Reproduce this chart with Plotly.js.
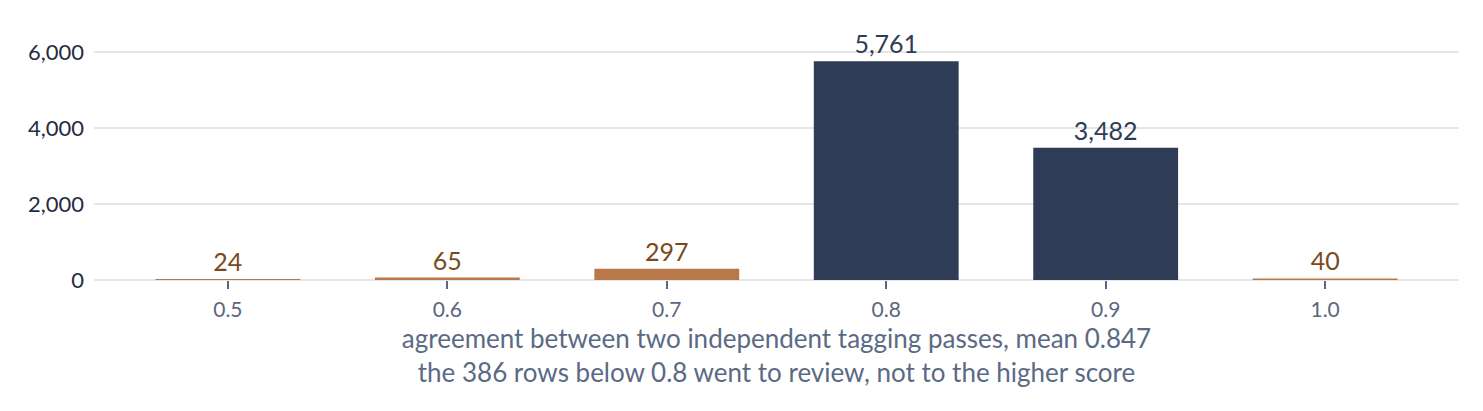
<!DOCTYPE html>
<html>
<head>
<meta charset="utf-8">
<script src="https://cdn.plot.ly/plotly-3.0.1.min.js"></script>
<style>
  html, body { margin: 0; padding: 0; background: #ffffff; }
  #chart { width: 1483px; height: 411px; }
</style>
</head>
<body>
<div id="chart"></div>
<script>
// agreement score buckets and row counts
var scores = [0.5, 0.6, 0.7, 0.8, 0.9, 1.0];
var rows = [24, 65, 297, 5761, 3482, 40];
var tickLabels = ['0.5', '0.6', '0.7', '0.8', '0.9', '1.0'];

var BROWN = '#b8784a';
var BROWN_TEXT = '#7a4a1c';
var NAVY = '#2f3c55';

// rows scored 0.8 and 0.9 are the kept ones
var barColors = scores.map(function(s) { return (s >= 0.75 && s <= 0.95) ? NAVY : BROWN; });
var textColors = scores.map(function(s) { return (s >= 0.75 && s <= 0.95) ? NAVY : BROWN_TEXT; });

var trace = {
	type: 'bar',
	x: scores,
	y: rows,
	marker: { color: barColors },
	text: rows.map(function(v) { return v.toLocaleString('en-US'); }),
	textposition: 'outside',
	cliponaxis: false,
	textfont: { family: 'Lato', size: 25, color: textColors },
	hoverinfo: 'x+y'
};

var layout = {
	width: 1483,
	height: 411,
	margin: { l: 94, r: 24, t: 39, b: 131 },
	paper_bgcolor: '#ffffff',
	plot_bgcolor: '#ffffff',
	font: { family: 'Lato', color: '#262c3f' },
	bargap: 0.34,
	showlegend: false,
	xaxis: {
		range: [0.439, 1.061],
		tickvals: scores,
		ticktext: tickLabels,
		ticks: 'outside',
		ticklen: 8,
		tickwidth: 2,
		tickcolor: '#5a6780',
		tickfont: { family: 'Lato', size: 21, color: '#5a6780' },
		ticklabelstandoff: 3,
		showgrid: false,
		zeroline: false,
		showline: false,
		title: {
			text: 'agreement between two independent tagging passes, mean 0.847<br>the 386 rows below 0.8 went to review, not to the higher score',
			font: { family: 'Lato', size: 26, color: '#5b6a84' },
			standoff: 9
		}
	},
	yaxis: {
		range: [0, 6350],
		tickvals: [0, 2000, 4000, 6000],
		tickformat: ',d',
		tickfont: { family: 'Lato', size: 22, color: '#262c3f' },
		showgrid: true,
		gridcolor: '#e4e6ea',
		gridwidth: 2,
		zeroline: true,
		zerolinecolor: '#e4e6ea',
		zerolinewidth: 2,
		ticks: '',
		ticklabelstandoff: 9
	}
};

Plotly.newPlot('chart', [trace], layout, { displayModeBar: false, staticPlot: true });
</script>
</body>
</html>
